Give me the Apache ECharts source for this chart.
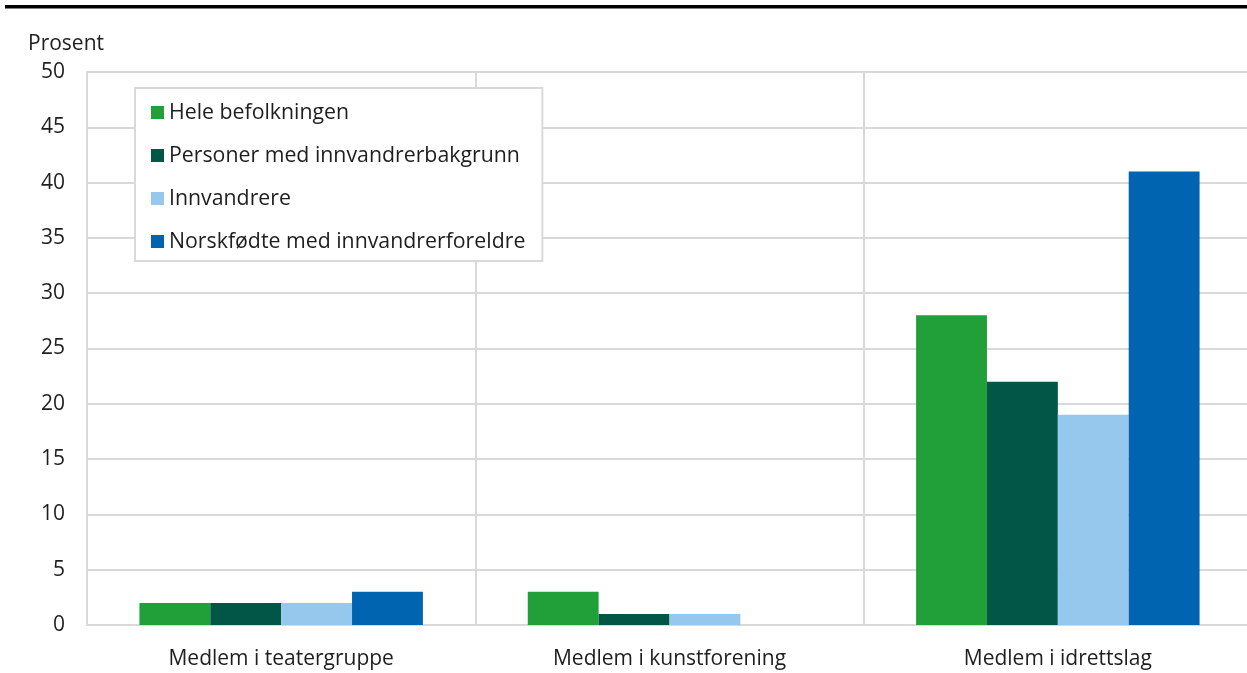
<!DOCTYPE html>
<html>
<head>
<meta charset="utf-8">
<style>
  html, body { margin: 0; padding: 0; background: #fff; }
  #chart { width: 1247px; height: 673px; }
</style>
<script src="https://cdn.jsdelivr.net/npm/echarts@6/dist/echarts.min.js"></script>
</head>
<body>
<div id="chart"></div>
<script>
const categories = ['Medlem i teatergruppe', 'Medlem i kunstforening', 'Medlem i idrettslag'];
const seriesNames = ['Hele befolkningen', 'Personer med innvandrerbakgrunn', 'Innvandrere', 'Norskfødte med innvandrerforeldre'];
const heleBefolkningen = [2, 3, 28];
const innvandrerbakgrunn = [2, 1, 22];
const innvandrere = [2, 1, 19];
const norskfodte = [3, null, 41];
const seriesValues = [heleBefolkningen, innvandrerbakgrunn, innvandrere, norskfodte];
const colors = ['#21a03a', '#025647', '#96c7ec', '#0064b0'];

const font = '"Open Sans", "Noto Sans", sans-serif';
const textColor = '#1e1e1e';
const gridColor = '#d9d9d9';

const chart = echarts.init(document.getElementById('chart'), null, { renderer: 'canvas' });

chart.setOption({
  animation: false,
  textStyle: { fontFamily: font, color: textColor },
  title: {
    text: 'Prosent',
    left: 28,
    top: 34,
    padding: 0,
    textStyle: { fontFamily: font, fontSize: 21, fontWeight: 'normal', color: textColor }
  },
  graphic: [{
    type: 'rect',
    shape: { x: 5, y: 5, width: 1242, height: 3.5 },
    style: { fill: '#000' },
    silent: true
  }],
  legend: {
    orient: 'vertical',
    left: 135,
    top: 88,
    data: seriesNames,
    itemWidth: 13,
    itemHeight: 13,
    itemGap: 22,
    padding: [14, 17, 9, 16],
    borderColor: gridColor,
    borderWidth: 2,
    backgroundColor: '#fff',
    icon: 'rect',
    textStyle: { fontFamily: font, fontSize: 21.3, color: textColor, lineHeight: 21 }
  },
  // the plot area runs a little past the right edge of the canvas
  grid: { left: 87, width: 1165, top: 72, bottom: 48, outerBoundsMode: 'none', containLabel: false },
  xAxis: {
    type: 'category',
    data: categories,
    axisLine: { show: true, lineStyle: { color: gridColor, width: 2 } },
    axisTick: { show: false },
    axisLabel: { fontFamily: font, fontSize: 21, color: textColor, margin: 24 },
    splitLine: { show: true, lineStyle: { color: gridColor, width: 2 } }
  },
  yAxis: {
    type: 'value',
    min: 0,
    max: 50,
    interval: 5,
    axisLine: { show: true, lineStyle: { color: gridColor, width: 2 } },
    axisTick: { show: false },
    axisLabel: { fontFamily: font, fontSize: 21, color: textColor, margin: 22 },
    splitLine: { show: true, lineStyle: { color: gridColor, width: 2 } }
  },
  series: seriesNames.map((name, i) => ({
    name: name,
    type: 'bar',
    data: seriesValues[i],
    barWidth: '18.25%',
    barGap: '0%',
    itemStyle: { color: colors[i] }
  }))
});
</script>
</body>
</html>
